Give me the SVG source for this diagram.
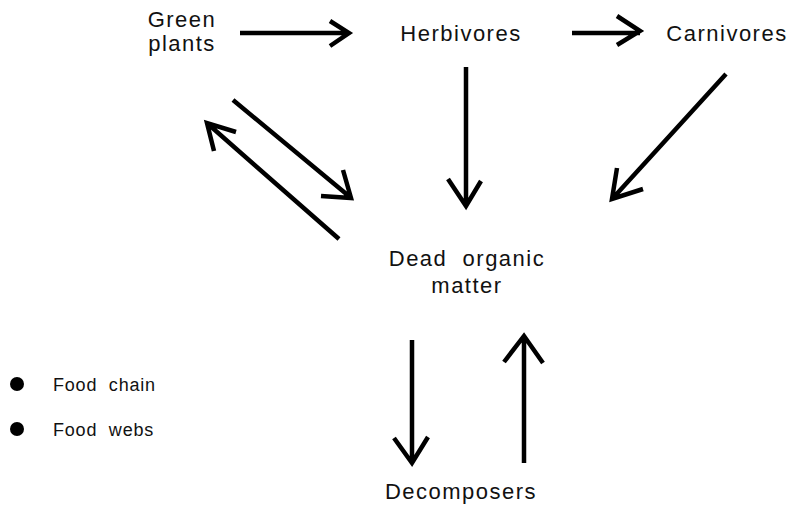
<svg xmlns="http://www.w3.org/2000/svg" width="789" height="507" viewBox="0 0 789 507">
<style>
.t{font-family:"Liberation Sans",Arial,sans-serif;font-size:22px;letter-spacing:1.5px;fill:#111;text-anchor:middle}
.l{font-family:"Liberation Sans",Arial,sans-serif;font-size:18px;letter-spacing:0.8px;fill:#111}
.a{fill:none;stroke:#000;stroke-width:4.5;stroke-linejoin:miter}
</style>
<rect width="789" height="507" fill="#fff"/>
<g id="green-plants"><text class="t" x="182" y="27">Green</text><text class="t" x="182" y="51">plants</text></g>
<g id="herbivores"><text class="t" x="461" y="41">Herbivores</text></g>
<g id="carnivores"><text class="t" x="727" y="41">Carnivores</text></g>
<g id="dead-organic-matter"><text class="t" x="467" y="266" xml:space="preserve">Dead  organic</text><text class="t" x="467" y="293">matter</text></g>
<g id="decomposers"><text class="t" x="461" y="499">Decomposers</text></g>
<g id="legend">
<circle cx="17" cy="384" r="7" fill="#000"/><text class="l" x="53" y="391" xml:space="preserve">Food  chain</text>
<circle cx="17" cy="429" r="7" fill="#000"/><text class="l" x="53" y="436" xml:space="preserve">Food  webs</text>
</g>
<g id="connectors">
<path class="a" d="M240 33H349M330 21L349 33L330 46"/>
<path class="a" d="M572 33H640M617 16L640 31L617 45"/>
<path class="a" d="M466 67V205M448 179L466 206L481 181"/>
<path class="a" d="M726 74L613 198M617 168L612 199L643 189"/>
<path class="a" d="M233 100L350 197M343 170L351 198L321 196"/>
<path class="a" d="M339 239L208 124M236 132L207 123L214 151"/>
<path class="a" d="M412 340V463M394 438L412 463L428 437"/>
<path class="a" d="M524 463V336M504 362L524 336L543 363"/>
</g>
</svg>
